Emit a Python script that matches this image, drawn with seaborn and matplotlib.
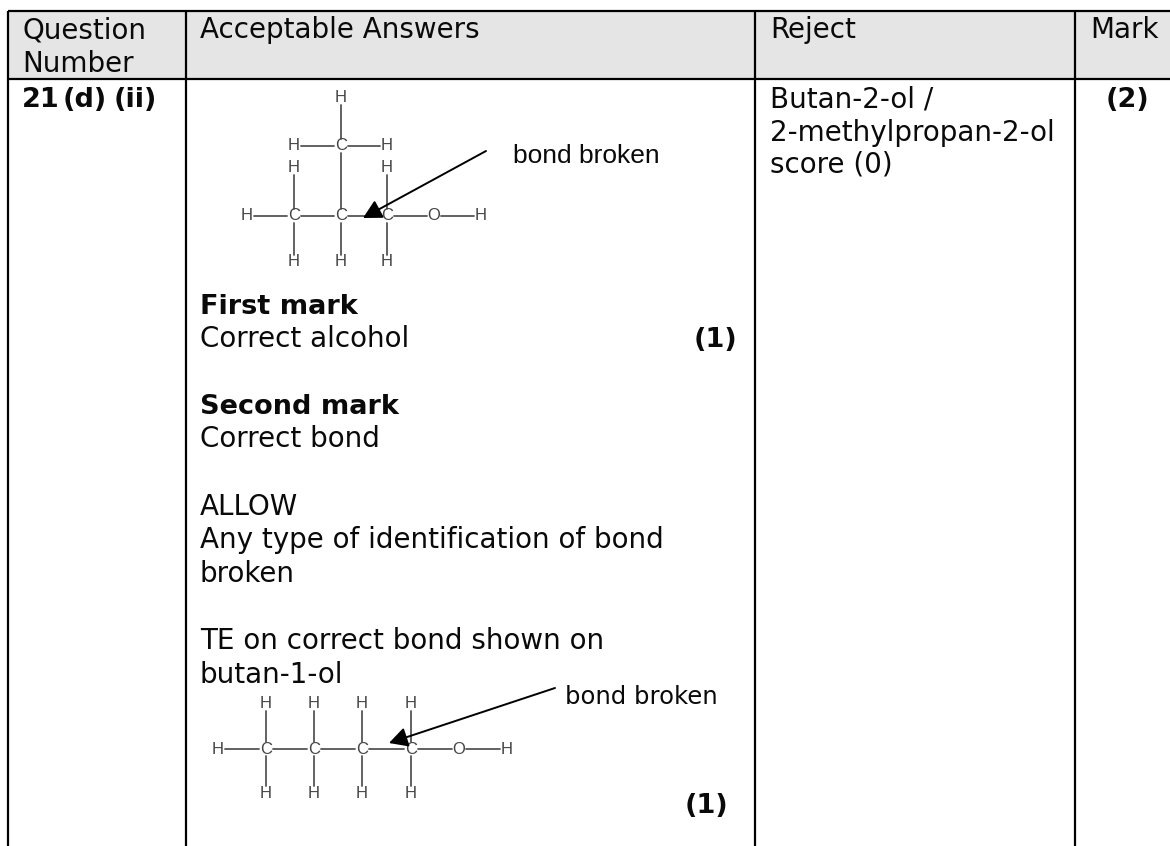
import numpy as np
import pandas as pd
import seaborn as sns
import matplotlib.pyplot as plt

# table layout, in pixels of the page
col_edges = [8, 186, 755, 1075]
page_right = 1170
table_top = 11
header_bottom = 79

header_x = [22, 22, 200, 770, 1090]
header_y = [38, 72, 38, 38, 38]
header_text = ["Question", "Number", "Acceptable Answers", "Reject", "Mark"]

# plain text: x, baseline y, string
body_x = [200, 200, 200, 200, 200, 200, 200, 770, 770, 770]
body_y = [347, 447, 515, 548, 582, 649, 683, 107, 141, 173]
body_text = ["Correct alcohol", "Correct bond", "ALLOW",
             "Any type of identification of bond", "broken",
             "TE on correct bond shown on", "butan-1-ol",
             "Butan-2-ol /", "2-methylpropan-2-ol", "score (0)"]

bold_x = [22, 63, 114, 200, 200, 737, 728, 1128]
bold_y = [107, 107, 107, 314, 414, 347, 813, 107]
bold_ha = ["left", "left", "left", "left", "left", "right", "right", "center"]
bold_text = ["21", "(d)", "(ii)", "First mark", "Second mark", "(1)", "(1)", "(2)"]

# branched alcohol atoms
mol1_x = [341, 294, 387, 341, 294, 387, 247, 294, 341, 387, 434, 481, 294, 341, 387]
mol1_y = [98, 146, 146, 146, 168, 168, 216, 216, 216, 216, 216, 216, 262, 262, 262]
mol1_atoms = ["H", "H", "H", "C", "H", "H", "H", "C", "C", "C", "O", "H", "H", "H", "H"]
mol1_bonds = [(0, 3), (1, 3), (2, 3), (3, 8), (4, 7), (5, 9), (6, 7), (7, 8),
              (8, 9), (9, 10), (10, 11), (7, 12), (8, 13), (9, 14)]

# butan-1-ol atoms
mol2_x = [266, 314, 362, 411, 218, 266, 314, 362, 411, 459, 507, 266, 314, 362, 411]
mol2_y = [704, 704, 704, 704, 749, 749, 749, 749, 749, 749, 749, 793, 793, 793, 793]
mol2_atoms = ["H", "H", "H", "H", "H", "C", "C", "C", "C", "O", "H", "H", "H", "H", "H"]
mol2_bonds = [(0, 5), (1, 6), (2, 7), (3, 8), (4, 5), (5, 6), (6, 7), (7, 8),
              (8, 9), (9, 10), (5, 11), (6, 12), (7, 13), (8, 14)]

labels_x = [513, 565]
labels_y = [163, 704]
labels_size = [19, 17.5]
labels_font = ["Liberation Sans", "DejaVu Sans"]
arrow_tail = [(486, 151), (555, 688)]
arrow_tip = [(363, 218), (389, 743)]


def bond_table(xs, ys, bonds, gap=7):
    rows = []
    for n, (a, b) in enumerate(bonds):
        p, q = np.array([xs[a], ys[a]], float), np.array([xs[b], ys[b]], float)
        d = (q - p) / np.linalg.norm(q - p)
        for end in (p + d * gap, q - d * gap):
            rows.append({"x": end[0], "y": end[1], "bond": n})
    return pd.DataFrame(rows)


sns.set_theme(style="white")
plt.rcParams["font.family"] = ["DejaVu Sans"]

fig = plt.figure(figsize=(11.7, 8.46), dpi=100)
ax = fig.add_axes([0, 0, 1, 1])

# header shading and rules, the page cuts off the right hand side
ax.fill_between([col_edges[0], page_right], table_top, header_bottom, color="#e5e5e5", lw=0)
ax.hlines([table_top, header_bottom], col_edges[0], page_right, color="black", lw=1.6)
ax.vlines(col_edges, table_top, 846, color="black", lw=1.6)

for x, y, s in zip(header_x, header_y, header_text):
    ax.text(x, y, s, fontsize=20, color="#0a0a0a", va="baseline")
for x, y, s in zip(body_x, body_y, body_text):
    ax.text(x, y, s, fontsize=20, color="#0a0a0a", va="baseline")
for x, y, ha, s in zip(bold_x, bold_y, bold_ha, bold_text):
    ax.text(x, y, s, fontsize=19.5, color="#0a0a0a", va="baseline", ha=ha, fontweight="bold")

# structural formulae
for xs, ys, atoms, bonds in [(mol1_x, mol1_y, mol1_atoms, mol1_bonds),
                             (mol2_x, mol2_y, mol2_atoms, mol2_bonds)]:
    sns.lineplot(data=bond_table(xs, ys, bonds), x="x", y="y", units="bond", estimator=None,
                 color="#555555", lw=1.3, sort=False, ax=ax)
    for x, y, a in zip(xs, ys, atoms):
        ax.text(x, y, a, fontsize=12, color="#444444", ha="center", va="center",
                family="Liberation Sans")

for x, y, size, font, tail, tip in zip(labels_x, labels_y, labels_size, labels_font,
                                       arrow_tail, arrow_tip):
    ax.text(x, y, "bond broken", fontsize=size, color="#0a0a0a", va="baseline", family=font)
    ax.annotate("", xy=tip, xytext=tail,
                arrowprops=dict(arrowstyle="-|>,head_length=0.75,head_width=0.4",
                                color="black", lw=1.4, shrinkA=0, shrinkB=0,
                                mutation_scale=15))

ax.set_xlim(0, 1170)
ax.set_ylim(846, 0)
ax.set_xlabel("")
ax.set_ylabel("")
ax.set_xticks([])
ax.set_yticks([])
sns.despine(ax=ax, left=True, bottom=True)

fig.savefig("out.png", dpi=100)
